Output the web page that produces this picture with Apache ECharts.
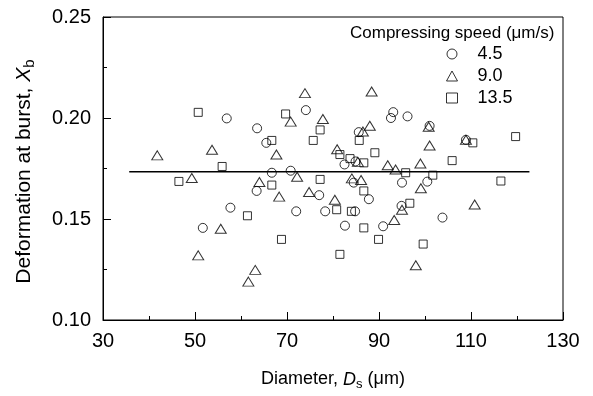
<!DOCTYPE html>
<html><head><meta charset="utf-8">
<script src="https://cdn.jsdelivr.net/npm/echarts@6/dist/echarts.min.js"></script>
<style>html,body{margin:0;padding:0;background:#fff}#c{width:593px;height:396px}</style>
</head><body><div id="c"></div>
<script>
// Compressing speed 4.5 um/s (circles)
const circleX = [56.9, 74.1, 63.5, 65.5, 66.7, 70.8, 63.4, 77.0, 57.7, 72.0, 78.3, 51.7,
  93.1, 92.6, 96.2, 85.6, 101.0, 108.9, 82.5, 84.9, 84.5, 95.0, 100.5, 87.8, 94.9, 84.8, 82.6, 90.9, 103.8];
const circleY = [0.1998, 0.2039, 0.1949, 0.1877, 0.1729, 0.1739, 0.1639, 0.1618, 0.1556, 0.1538, 0.1538, 0.1456,
  0.2029, 0.2000, 0.2008, 0.1930, 0.1961, 0.1892, 0.1770, 0.1785, 0.1680, 0.1680, 0.1685, 0.1598, 0.1565, 0.1538, 0.1467, 0.1464, 0.1507];
// Compressing speed 9.0 um/s (triangles)
const triX = [73.9, 70.8, 77.8, 41.8, 53.7, 67.7, 49.3, 64.0, 72.2, 68.3, 74.8, 55.6, 50.7, 63.1, 61.6,
  88.4, 88.0, 86.5, 80.9, 100.8, 101.0, 108.9, 91.9, 93.6, 99.0, 84.1, 86.1, 99.1, 80.4, 95.0, 93.3, 110.8, 98.0, 85.4];
const triY = [0.2123, 0.1982, 0.1995, 0.1815, 0.1843, 0.1819, 0.1703, 0.1683, 0.1709, 0.1611, 0.1634, 0.1452, 0.1320, 0.1248, 0.1190,
  0.2131, 0.1962, 0.1933, 0.1845, 0.1957, 0.1864, 0.1892, 0.1766, 0.1745, 0.1775, 0.1701, 0.1693, 0.1652, 0.1595, 0.1546, 0.1495, 0.1572, 0.1271, 0.1783];
// Compressing speed 13.5 um/s (squares)
const sqX = [50.7, 69.7, 77.2, 66.7, 75.7, 55.9, 46.5, 66.7, 77.2, 61.4, 68.8,
  119.7, 110.4, 85.7, 89.1, 81.5, 83.7, 86.7, 105.9, 95.8, 101.7, 116.5, 86.7, 80.8, 84.0, 96.7, 86.7, 89.9, 99.6, 81.5];
const sqY = [0.2028, 0.2020, 0.1941, 0.1889, 0.1889, 0.1760, 0.1686, 0.1668, 0.1696, 0.1516, 0.1399,
  0.1908, 0.1877, 0.1889, 0.1828, 0.1819, 0.1799, 0.1778, 0.1789, 0.1729, 0.1717, 0.1688, 0.1639, 0.1546, 0.1538, 0.1578, 0.1456, 0.1399, 0.1376, 0.1325];
// mean line
const lineX = [35.7, 122.7];
const lineY = [0.1734, 0.1734];
const seriesNames = ['4.5', '9.0', '13.5'];
const legendTitle = 'Compressing speed (\u03bcm/s)';
const yTitle = 'Deformation at burst, {i|X}{sub|b}';
const xTitle = 'Diameter, {i|D}{sub|s} (\u03bcm)';

const zip = (a, b) => a.map((v, i) => [v, b[i]]);
const FONT = "'Liberation Sans', Arial, sans-serif";
const mk = (name, sym, size, xs, ys) => ({
  name, type: 'scatter', symbol: sym, symbolSize: size, data: zip(xs, ys),
  itemStyle: { color: 'rgba(0,0,0,0)', borderColor: '#000', borderWidth: 1 },
  emphasis: { disabled: true }, z: 3
});

const chart = echarts.init(document.getElementById('c'), null, { renderer: 'canvas' });
chart.setOption({
  animation: false,
  backgroundColor: '#fff',
  textStyle: { fontFamily: FONT, color: '#000' },
  grid: { left: 103, right: 30, top: 17, bottom: 73, show: true, borderColor: '#000', borderWidth: 1 },
  title: { text: legendTitle, left: 350, top: 25, padding: 0,
    textStyle: { fontFamily: FONT, fontSize: 17, fontWeight: 'normal', color: '#000' } },
  legend: {
    orient: 'vertical', left: 446, top: 43, padding: 0, itemWidth: 11, itemHeight: 10, itemGap: 0,
    data: seriesNames, selectedMode: false,
    itemStyle: { borderWidth: 1, borderColor: '#000', color: 'rgba(0,0,0,0)' },
    textStyle: { fontFamily: FONT, fontSize: 18, color: '#000', lineHeight: 22, padding: [0, 0, 0, 15] }
  },
  graphic: [{
    type: 'text', x: 24, y: 171.5, rotation: Math.PI / 2, silent: true,
    style: {
      text: yTitle, align: 'center', verticalAlign: 'middle', fill: '#000',
      fontFamily: FONT, fontSize: 21,
      rich: { i: { fontStyle: 'italic', fontSize: 21, fontFamily: FONT, fill: '#000' },
              sub: { fontSize: 15, fontFamily: FONT, fill: '#000', padding: [11, 0, 0, 0] } }
    }
  }],
  xAxis: {
    type: 'value', min: 30, max: 130, interval: 20,
    name: xTitle, nameLocation: 'middle', nameGap: 48,
    nameTextStyle: { fontFamily: FONT, fontSize: 18, color: '#000',
      rich: { i: { fontStyle: 'italic', fontSize: 18, fontFamily: FONT }, sub: { fontSize: 13, fontFamily: FONT, padding: [10, 0, 0, 0] } } },
    axisLine: { show: true, lineStyle: { color: '#000', width: 1 } },
    axisTick: { show: true, inside: true, length: 8, lineStyle: { color: '#000' } },
    minorTick: { show: true, splitNumber: 2, length: 4, lineStyle: { color: '#000' } },
    axisLabel: { fontFamily: FONT, fontSize: 20, color: '#000', margin: 11 },
    splitLine: { show: false }
  },
  yAxis: {
    type: 'value', min: 0.10, max: 0.25, interval: 0.05,
    axisLine: { show: true, lineStyle: { color: '#000', width: 1 } },
    axisTick: { show: true, inside: true, length: 8, lineStyle: { color: '#000' } },
    minorTick: { show: true, splitNumber: 2, length: 4, lineStyle: { color: '#000' } },
    axisLabel: { fontFamily: FONT, fontSize: 20, color: '#000', margin: 12, formatter: v => v.toFixed(2) },
    splitLine: { show: false }
  },
  series: [
    mk(seriesNames[0], 'circle', 9, circleX, circleY),
    mk(seriesNames[1], 'triangle', [11, 9], triX, triY),
    mk(seriesNames[2], 'rect', 8, sqX, sqY),
    { type: 'line', data: zip(lineX, lineY), symbol: 'none', silent: true, z: 2,
      lineStyle: { color: '#000', width: 1.5 } }
  ]
});
</script></body></html>
